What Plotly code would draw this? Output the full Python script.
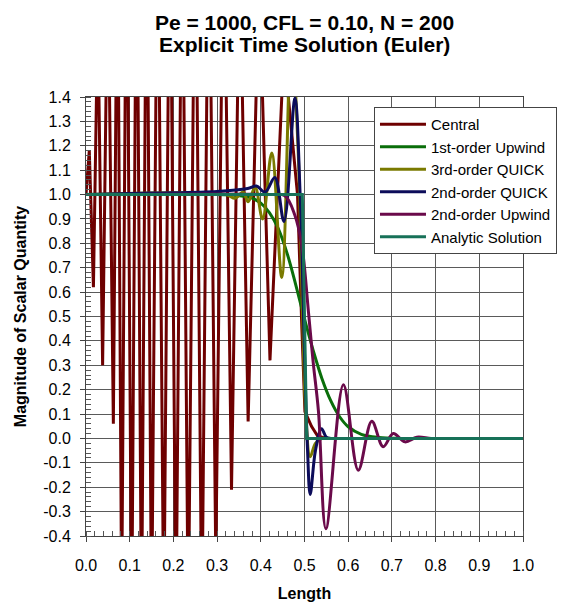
import plotly.graph_objects as go

# ---------------- data ----------------
central_x = [0.0, 0.0075, 0.017, 0.027, 0.038, 0.050, 0.0626, 0.072, 0.0816, 0.093,
             0.1045, 0.116, 0.127, 0.139, 0.150, 0.164, 0.178, 0.192, 0.206, 0.220,
             0.234, 0.250, 0.265, 0.281, 0.297, 0.315, 0.333, 0.352, 0.371, 0.396,
             0.421, 0.453, 0.463, 0.484, 0.494, 0.501, 0.516, 0.530, 0.550, 1.0]
central_y = [1.0, 1.18, 0.62, 1.75, 0.30, 2.0, 0.06, 2.2, -0.7, 2.3,
             -0.8, 2.3, -0.8, 2.3, -0.8, 2.3, -0.8, 2.3, -0.8, 2.3,
             -0.8, 2.3, -0.8, 2.3, -0.5, 2.2, -0.21, 2.0, 0.07, 1.9,
             0.32, 1.6, 1.4, 1.0, 0.45, 0.11, 0.05, 0.01, 0.0, 0.0]

upwind1_x = [0.0, 0.30, 0.35, 0.38, 0.40, 0.42, 0.44, 0.46, 0.48, 0.50, 0.52,
             0.54, 0.56, 0.58, 0.60, 0.63, 0.67, 0.72, 0.80, 0.90, 1.0]
upwind1_y = [1.0, 1.0, 0.995, 0.985, 0.965, 0.925, 0.86, 0.76, 0.63, 0.49, 0.36,
             0.245, 0.155, 0.09, 0.048, 0.017, 0.004, 0.0, 0.0, 0.0, 0.0]

quick3_x = [0.0, 0.32, 0.341, 0.36, 0.371, 0.387, 0.404, 0.425, 0.448, 0.47,
            0.485, 0.495, 0.503, 0.513, 0.525, 0.54, 0.56, 0.60, 0.80, 1.0]
quick3_y = [1.0, 1.0, 0.985, 1.01, 0.97, 1.03, 0.90, 1.17, 0.66, 1.65,
            1.2, 0.55, 0.1, -0.075, -0.02, 0.0, 0.0, 0.0, 0.0, 0.0]

quick2_x = [0.0, 0.15, 0.30, 0.37, 0.39, 0.41, 0.432, 0.453, 0.478, 0.49,
            0.50, 0.507, 0.513, 0.525, 0.539, 0.55, 0.56, 0.58, 0.65, 0.80, 1.0]
quick2_y = [1.0, 1.006, 1.013, 1.025, 1.035, 1.01, 1.07, 0.89, 1.395, 1.0,
            0.35, -0.05, -0.23, -0.05, 0.04, 0.005, 0.0, 0.0, 0.0, 0.0, 0.0]

upwind2_x = [0.0, 0.42, 0.455, 0.478, 0.494, 0.509, 0.52, 0.532, 0.549, 0.589,
             0.623, 0.654, 0.68, 0.703, 0.73, 0.757, 0.79, 0.82, 0.90, 1.0]
upwind2_y = [1.0, 1.0, 0.995, 0.915, 0.79, 0.52, 0.31, 0.11, -0.37, 0.22,
             -0.13, 0.07, -0.034, 0.02, -0.014, 0.005, 0.0, 0.0, 0.0, 0.0]

analytic_x = [0.0, 0.495, 0.505, 1.0]
analytic_y = [1.0, 1.0, 0.0, 0.0]

x_ticks = [0.0, 0.1, 0.2, 0.3, 0.4, 0.5, 0.6, 0.7, 0.8, 0.9, 1.0]
x_labels = ["0.0", "0.1", "0.2", "0.3", "0.4", "0.5", "0.6", "0.7", "0.8", "0.9", "1.0"]
y_ticks = [1.4, 1.3, 1.2, 1.1, 1.0, 0.9, 0.8, 0.7, 0.6, 0.5, 0.4, 0.3, 0.2, 0.1,
           0.0, -0.1, -0.2, -0.3, -0.4]
y_labels = ["1.4", "1.3", "1.2", "1.1", "1.0", "0.9", "0.8", "0.7", "0.6", "0.5",
            "0.4", "0.3", "0.2", "0.1", "0.0", "-0.1", "-0.2", "-0.3", "-0.4"]

series = [
    ("Central", central_x, central_y, "#6e0000", "linear"),
    ("1st-order Upwind", upwind1_x, upwind1_y, "#0a6e0a", "spline"),
    ("3rd-order QUICK", quick3_x, quick3_y, "#7a7a00", "spline"),
    ("2nd-order QUICK", quick2_x, quick2_y, "#0c0c5a", "spline"),
    ("2nd-order Upwind", upwind2_x, upwind2_y, "#6a0a4a", "spline"),
    ("Analytic Solution", analytic_x, analytic_y, "#177158", "linear"),
]

FONT = "Liberation Sans, Arial, Helvetica, sans-serif"

fig = go.Figure()
for name, xs, ys, col, shape in series:
    fig.add_trace(go.Scatter(x=xs, y=ys, mode="lines", name=name,
                             line=dict(color=col, width=3, shape=shape)))

axis_common = dict(
    showgrid=True, gridcolor="#5a5a5a", gridwidth=1,
    showline=True, linecolor="#444", linewidth=1, mirror=True,
    ticks="outside", ticklen=5, tickcolor="#444", automargin=False,
    zeroline=False, tickfont=dict(size=16, color="black"),
)

fig.update_xaxes(range=[0, 1], tickvals=x_ticks, ticktext=x_labels,
                 ticklabelstandoff=10,
                 minor=dict(dtick=0.02, tick0=0, ticks="inside", ticklen=5,
                            tickcolor="#555", showgrid=False),
                 title=dict(text="<b>Length</b>", font=dict(size=16), standoff=14),
                 **axis_common)
fig.update_yaxes(range=[-0.4, 1.4], tickvals=y_ticks, ticktext=y_labels,
                 ticklabelstandoff=6,
                 minor=dict(dtick=0.02, tick0=0, ticks="inside", ticklen=5,
                            tickcolor="#555", showgrid=False),
                 title=dict(text="<b>Magnitude of Scalar Quantity</b>",
                            font=dict(size=16), standoff=12),
                 **axis_common)

fig.update_layout(
    width=571, height=603,
    margin=dict(l=86, r=48, t=97, b=67),
    plot_bgcolor="white", paper_bgcolor="white",
    font=dict(family=FONT, size=16, color="black"),
    legend=dict(x=0.659, y=0.977, xanchor="left", yanchor="top",
                bgcolor="white", bordercolor="#444", borderwidth=1,
                font=dict(size=15), tracegroupgap=0, itemwidth=46,
                entrywidth=132),
    annotations=[
        dict(text="<b>Pe = 1000, CFL = 0.10, N = 200</b>", xref="paper", yref="paper",
             x=0.5, y=1.1708, xanchor="center", yanchor="middle", showarrow=False,
             font=dict(size=21)),
        dict(text="<b>Explicit Time Solution (Euler)</b>", xref="paper", yref="paper",
             x=0.5, y=1.1185, xanchor="center", yanchor="middle", showarrow=False,
             font=dict(size=21)),
    ],
)

fig.write_html("out.html")
